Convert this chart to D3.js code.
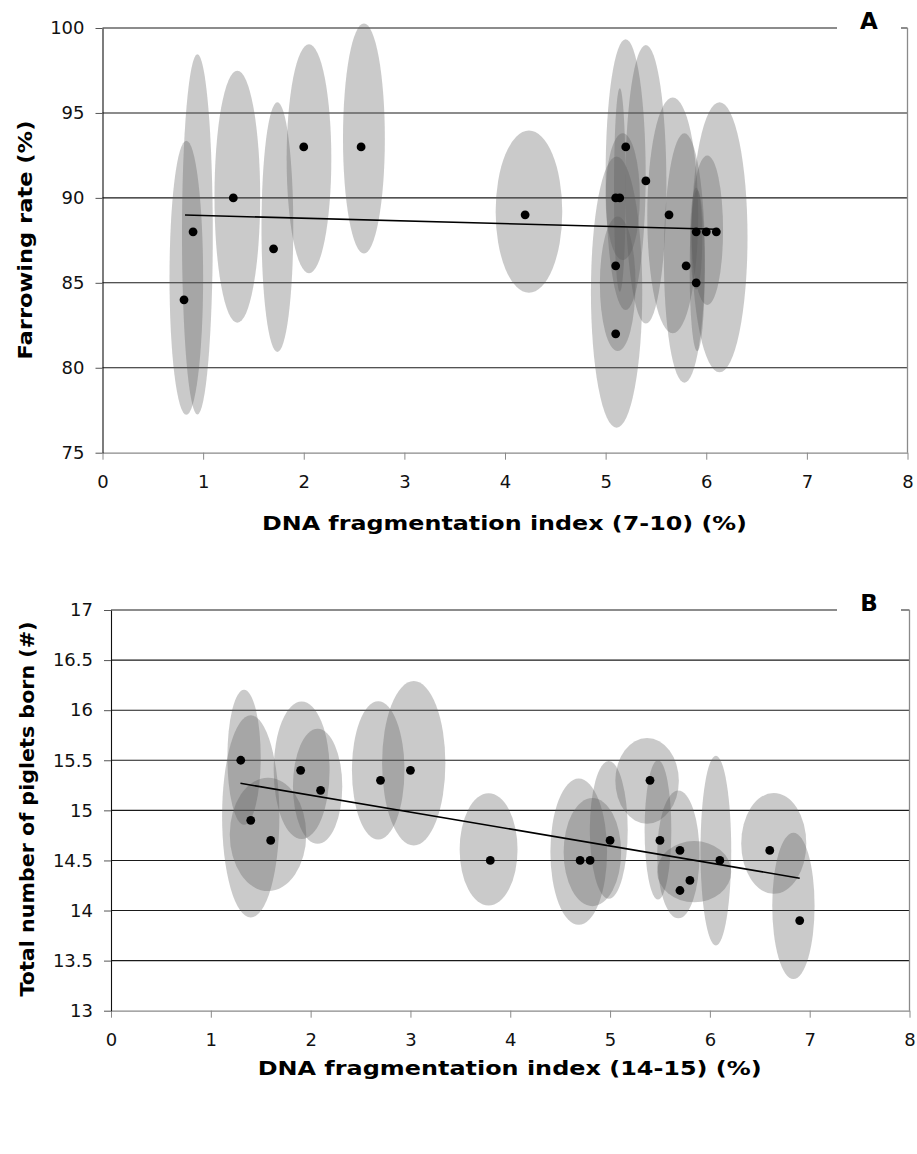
<!DOCTYPE html>
<html><head><meta charset="utf-8">
<script src="https://cdn.jsdelivr.net/npm/d3@7"></script>
<style>body{margin:0;background:#fff}svg{display:block}</style>
</head><body><svg id="c" width="917" height="1154"></svg>
<script>
// ---------- data ----------
const xTickValues = [0,1,2,3,4,5,6,7,8];
const yTicksA = [75,80,85,90,95,100];
const yTicksB = [13,13.5,14,14.5,15,15.5,16,16.5,17];

const ptsAx = [0.81,0.9,1.3,1.7,2.0,2.57,4.2,5.1,5.14,5.2,5.4,5.63,5.9,6.0,6.1,5.1,5.8,5.9,5.1];
const ptsAy = [84,88,90,87,93,93,89,90,90,93,91,89,88,88,88,86,86,85,82];

const ellAcx = [0.833,0.943,1.34,1.738,2.052,2.598,4.238,5.199,5.4,5.667,5.783,6.132,6.01,5.91,5.9,5.109,5.12,5.17,5.141];
const ellAcy = [85.3,87.85,90.07,88.28,92.3,93.5,89.19,91.37,90.8,88.97,86.46,87.68,88.1,85.72,87.6,84.45,84.94,90.07,90.47];
const ellArx = [0.167,0.153,0.227,0.158,0.222,0.208,0.331,0.199,0.204,0.253,0.204,0.278,0.157,0.075,0.06,0.255,0.177,0.17,0.058];
const ellAry = [8.07,10.6,7.42,7.35,6.74,6.77,4.77,7.97,8.2,6.94,7.34,7.95,4.4,4.74,3.0,7.98,3.96,3.73,5.99];

const trendAx = [0.82, 6.1];
const trendAy = [88.99, 88.15];

const ptsBx = [1.3,1.4,1.6,1.9,2.1,2.7,3.0,3.8,4.7,4.8,5.0,5.4,5.5,5.7,5.8,5.7,6.1,6.6,6.9];
const ptsBy = [15.5,14.9,14.7,15.4,15.2,15.3,15.4,14.5,14.5,14.5,14.7,15.3,14.7,14.6,14.3,14.2,14.5,14.6,13.9];

const ellBcx = [1.333,1.40,1.573,1.91,2.07,2.677,3.033,3.783,4.686,4.823,4.987,5.371,5.48,5.684,5.843,6.06,6.64,6.837];
const ellBcy = [15.53,14.94,14.76,15.4,15.24,15.4,15.47,14.61,14.587,14.583,14.805,15.295,14.805,14.56,14.388,14.597,14.67,14.047];
const ellBrx = [0.167,0.287,0.383,0.28,0.247,0.263,0.317,0.29,0.284,0.288,0.19,0.318,0.134,0.212,0.371,0.154,0.326,0.212];
const ellBry = [0.674,1.01,0.566,0.687,0.574,0.69,0.82,0.56,0.73,0.54,0.688,0.428,0.695,0.638,0.305,0.947,0.503,0.73];

const trendBx = [1.297, 6.9];
const trendBy = [15.27, 14.323];

const titleXA = "DNA fragmentation index (7-10) (%)";
const titleYA = "Farrowing rate (%)";
const titleXB = "DNA fragmentation index (14-15) (%)";
const titleYB = "Total number of piglets born (#)";

// ---------- drawing ----------
const svg = d3.select("#c");
const FONT = "'DejaVu Sans', Verdana, sans-serif";

function panel(cfg){
  const g = svg.append("g");
  const x = d3.scaleLinear().domain([0,8]).range([cfg.left, cfg.right]);
  const y = d3.scaleLinear().domain(cfg.ydom).range([cfg.bottom, cfg.top]);

  // gridlines
  g.selectAll("line.grid").data(cfg.yticks.slice(1)).join("line")
    .attr("x1", cfg.left).attr("x2", cfg.right)
    .attr("y1", d=>y(d)).attr("y2", d=>y(d))
    .attr("stroke", "#1a1a1a").attr("stroke-width", 1.1);
  // right border
  g.append("line").attr("x1", cfg.right).attr("x2", cfg.right)
    .attr("y1", cfg.top).attr("y2", cfg.bottom)
    .attr("stroke", "#8a8a8a").attr("stroke-width", 1.3);

  // ellipses
  g.selectAll("ellipse").data(cfg.ecx.map((d,i)=>i)).join("ellipse")
    .attr("cx", i=>x(cfg.ecx[i]))
    .attr("cy", i=>y(cfg.ecy[i]))
    .attr("rx", i=>x(cfg.erx[i]) - x(0))
    .attr("ry", i=>y(cfg.ydom[0]) - y(cfg.ery[i] + cfg.ydom[0]))
    .attr("fill", "#5a5a5a").attr("fill-opacity", 0.32);

  // label box over the top line
  g.append("rect").attr("x", cfg.lblBox[0]).attr("y", cfg.top - 24)
    .attr("width", cfg.lblBox[1]-cfg.lblBox[0]).attr("height", 26).attr("fill", "#fff");
  g.append("text").attr("x", (cfg.lblBox[0]+cfg.lblBox[1])/2).attr("y", cfg.top + 1)
    .attr("text-anchor","middle").attr("font-family", FONT).attr("font-weight","bold")
    .attr("font-size", 23).text(cfg.label);

  // axes
  const ax = g.append("g").attr("transform", `translate(0,${cfg.bottom})`)
    .call(d3.axisBottom(x).tickValues(xTickValues).tickSize(7).tickSizeOuter(0).tickPadding(16).tickFormat(d3.format("d")));
  ax.select(".domain").attr("stroke", "#8a8a8a").attr("stroke-width", 1.3);
  ax.selectAll(".tick line").attr("stroke", "#8a8a8a");
  ax.selectAll("text").attr("font-family", FONT).attr("font-size", 18).attr("fill", "#111");

  const ay = g.append("g").attr("transform", `translate(${cfg.left},0)`)
    .call(d3.axisLeft(y).tickValues(cfg.yticks).tickSize(7).tickSizeOuter(0).tickPadding(11).tickFormat(d=>String(d)));
  ay.select(".domain").attr("stroke", "#111").attr("stroke-width", 1.1);
  ay.selectAll(".tick line").attr("stroke", "#555");
  ay.selectAll("text").attr("font-family", FONT).attr("font-size", 18).attr("fill", "#111");

  // trend line
  g.append("line")
    .attr("x1", x(cfg.tx[0])).attr("y1", y(cfg.ty[0]))
    .attr("x2", x(cfg.tx[1])).attr("y2", y(cfg.ty[1]))
    .attr("stroke", "#000").attr("stroke-width", 1.6);

  // points
  g.selectAll("circle").data(cfg.px.map((d,i)=>i)).join("circle")
    .attr("cx", i=>x(cfg.px[i])).attr("cy", i=>y(cfg.py[i]))
    .attr("r", 4.4).attr("fill", "#000");

  // titles
  g.append("text").attr("x", cfg.xt[0]).attr("y", cfg.xt[1])
    .attr("text-anchor","middle").attr("font-family", FONT).attr("font-weight","bold")
    .attr("font-size", 20).attr("textLength", cfg.xt[2]).attr("lengthAdjust","spacingAndGlyphs")
    .text(cfg.titleX);
  g.append("text").attr("transform", `translate(${cfg.yt[0]},${cfg.yt[1]}) rotate(-90)`)
    .attr("text-anchor","middle").attr("font-family", FONT).attr("font-weight","bold")
    .attr("font-size", 20).attr("textLength", cfg.yt[2]).attr("lengthAdjust","spacingAndGlyphs")
    .text(cfg.titleY);
}

panel({left:102.5, right:907.5, top:28, bottom:452.7, ydom:[75,100], yticks:yTicksA,
  ecx:ellAcx, ecy:ellAcy, erx:ellArx, ery:ellAry, px:ptsAx, py:ptsAy, tx:trendAx, ty:trendAy,
  label:"A", lblBox:[837,901], titleX:titleXA, titleY:titleYA,
  xt:[504.5, 530, 485], yt:[32, 240, 239]});

panel({left:111, right:909.5, top:610, bottom:1010.7, ydom:[13,17], yticks:yTicksB,
  ecx:ellBcx, ecy:ellBcy, erx:ellBrx, ery:ellBry, px:ptsBx, py:ptsBy, tx:trendBx, ty:trendBy,
  label:"B", lblBox:[837,901], titleX:titleXB, titleY:titleYB,
  xt:[509.7, 1075, 504], yt:[34, 809, 375]});
</script>
</body></html>
